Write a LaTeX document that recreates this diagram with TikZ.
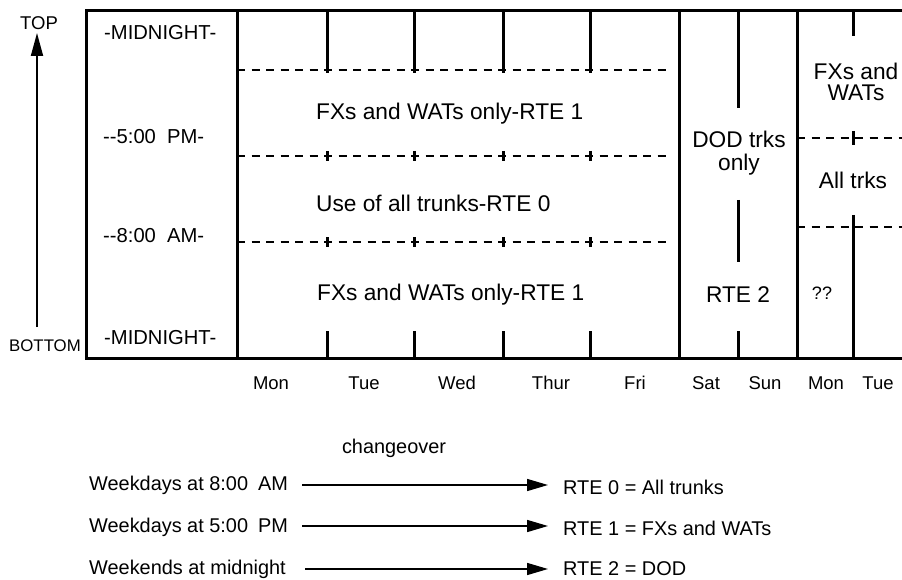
\documentclass[tikz,border=0pt]{standalone}
\usepackage{fontspec}
\setmainfont{Liberation Sans}
\usetikzlibrary{arrows.meta}
\begin{document}
\begin{tikzpicture}[x=1pt,y=-1pt,
  frame/.style={line width=3pt},
  tick/.style={line width=3pt},
  dashln/.style={line width=1.6pt,dash pattern=on 8pt off 6.5pt},
  big/.style={font=\fontsize{22.7}{25}\selectfont,inner sep=0pt},
  timelbl/.style={font=\fontsize{20.2}{23}\selectfont,inner sep=0pt,anchor=west},
  day/.style={font=\fontsize{18.5}{21}\selectfont,inner sep=0pt},
  leg/.style={font=\fontsize{19.9}{22}\selectfont,inner sep=0pt,anchor=west},
  legarrow/.style={line width=1.5pt,-{Triangle[length=21pt,width=12pt]}},
  vert/.style={line width=1.8pt,-{Triangle[length=23pt,width=12pt]}}
]
\useasboundingbox (0,0) rectangle (902,580);
% frame
\draw[frame] (902,11) -- (86,11) -- (86,358) -- (902,358);
\draw[frame] (237,11) -- (237,358);
\draw[frame] (679,11) -- (679,358);
\draw[frame] (797,11) -- (797,358);
% dashed lines weekdays
\foreach \y in {70,156,242} \draw[dashln] (237,\y) -- (668,\y);
% weekday ticks
\foreach \x in {327,414,503,590} {
  \draw[tick] (\x,11) -- (\x,73);
  \draw[tick] (\x,151) -- (\x,161);
  \draw[tick] (\x,237) -- (\x,247);
  \draw[tick] (\x,331) -- (\x,358);
}
% weekend ticks
\draw[tick] (738,11) -- (738,108);
\draw[tick] (738,200) -- (738,262);
\draw[tick] (738,331) -- (738,358);
% last section
\draw[dashln] (797,138) -- (902,138);
\draw[dashln] (797,227) -- (902,227);
\draw[tick] (853,11) -- (853,36);
\draw[tick] (853,131) -- (853,145);
\draw[tick] (853,215) -- (853,358);
% vertical arrow
\node[font=\fontsize{18.5}{20}\selectfont,inner sep=0pt] (top) at (39,23) {TOP};
\node[font=\fontsize{16.8}{18}\selectfont,inner sep=0pt] (bottom) at (45,346) {BOTTOM};
\coordinate (vb) at (37,327);
\coordinate (vt) at (37,33);
\draw[vert] (vb) -- (vt);
% time labels
\node[timelbl] (m1) at (104,33) {-MIDNIGHT-};
\node[timelbl] (pm) at (103,137) {-{}-5:00\hspace{0.55em}PM-};
\node[timelbl] (am) at (103,236) {-{}-8:00\hspace{0.55em}AM-};
\node[timelbl] (m2) at (104,338) {-MIDNIGHT-};
% region labels
\node[big,anchor=west] (r1a) at (316,114) {FXs and WATs only-RTE 1};
\node[big,anchor=west] (r0) at (316,203) {Use of all trunks-RTE 0};
\node[big,anchor=west] (r1b) at (317,295) {FXs and WATs only-RTE 1};
\node[big,align=center] (dod) at (739,153) {DOD trks\\[-2pt]only};
\node[big] (rte2) at (738,295) {RTE 2};
\node[big,align=center] (fxw) at (856,82) {FXs and\\[-4pt]WATs};
\node[big] (alltrks) at (853,180) {All trks};
\node[font=\fontsize{18}{20}\selectfont,inner sep=0pt] (qq) at (822,293) {??};
% day labels
\node[day] (d1) at (271,383) {Mon};
\node[day] (d2) at (364,383) {Tue};
\node[day] (d3) at (457,383) {Wed};
\node[day] (d4) at (551,383) {Thur};
\node[day] (d5) at (635,383) {Fri};
\node[day] (d6) at (706,383) {Sat};
\node[day] (d7) at (765,383) {Sun};
\node[day] (d8) at (826,383) {Mon};
\node[day] (d9) at (878,383) {Tue};
% legend
\node[leg,anchor=center] (chg) at (394,448) {changeover};
\node[leg] (l1) at (89,485) {Weekdays at 8:00\hspace{0.5em}AM};
\node[leg] (l2) at (89,527) {Weekdays at 5:00\hspace{0.5em}PM};
\node[leg] (l3) at (89,569) {Weekends at midnight};
\node[leg] (t1) at (563,487) {RTE 0 = All trunks};
\node[leg] (t2) at (563,528) {RTE 1 = FXs and WATs};
\node[leg] (t3) at (563,569) {RTE 2 = DOD};
\coordinate (a1s) at (302,485); \coordinate (a1e) at (548,485);
\coordinate (a2s) at (302,526); \coordinate (a2e) at (548,526);
\coordinate (a3s) at (305,569); \coordinate (a3e) at (548,569);
\draw[legarrow] (a1s) -- (a1e);
\draw[legarrow] (a2s) -- (a2e);
\draw[legarrow] (a3s) -- (a3e);
\end{tikzpicture}
\end{document}
